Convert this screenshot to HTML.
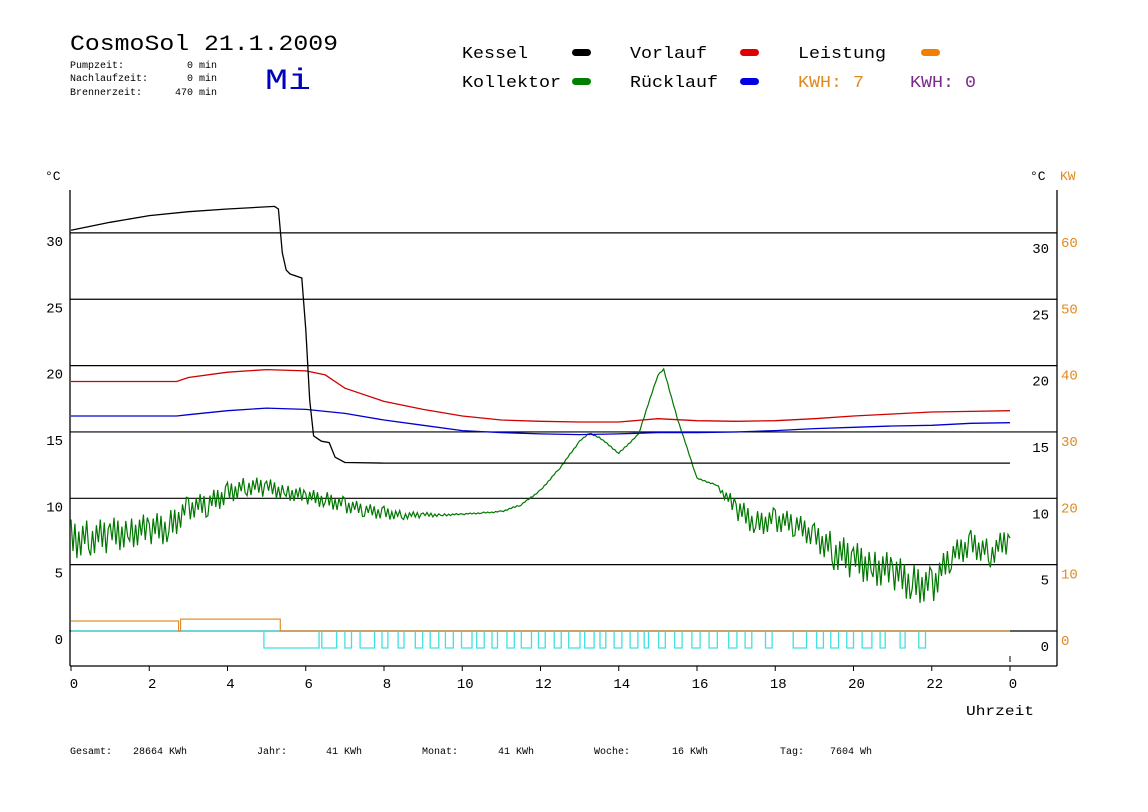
<!DOCTYPE html>
<html><head><meta charset="utf-8"><style>
html,body{margin:0;padding:0;background:#fff;}
svg{display:block;font-family:"Liberation Mono",monospace;}
svg text{white-space:pre;}
</style></head><body>
<svg id="chart" width="1148" height="812" viewBox="0 0 1148 812" xmlns="http://www.w3.org/2000/svg">
<g>
<text x="70" y="50" font-size="22" textLength="268" lengthAdjust="spacingAndGlyphs" fill="#000">CosmoSol 21.1.2009</text>
<text x="70" y="68" font-size="10" fill="#000">Pumpzeit:</text>
<text x="217" y="68" font-size="10" text-anchor="end" fill="#000">0 min</text>
<text x="70" y="81" font-size="10" fill="#000">Nachlaufzeit:</text>
<text x="217" y="81" font-size="10" text-anchor="end" fill="#000">0 min</text>
<text x="70" y="95" font-size="10" fill="#000">Brennerzeit:</text>
<text x="217" y="95" font-size="10" text-anchor="end" fill="#000">470 min</text>
<text x="265" y="89" font-size="30" textLength="46" lengthAdjust="spacingAndGlyphs" fill="#0000c0">Mi</text>
</g>
<g font-size="17">
<text x="462" y="58" textLength="66" lengthAdjust="spacingAndGlyphs">Kessel</text>
<rect x="572" y="49" width="19" height="7" rx="3.5" fill="#000"/>
<text x="630" y="58" textLength="77" lengthAdjust="spacingAndGlyphs">Vorlauf</text>
<rect x="740" y="49" width="19" height="7" rx="3.5" fill="#e00000"/>
<text x="798" y="58" textLength="88" lengthAdjust="spacingAndGlyphs">Leistung</text>
<rect x="921" y="49" width="19" height="7" rx="3.5" fill="#f08000"/>
<text x="462" y="87" textLength="99" lengthAdjust="spacingAndGlyphs">Kollektor</text>
<rect x="572" y="78" width="19" height="7" rx="3.5" fill="#008000"/>
<text x="630" y="87" textLength="88" lengthAdjust="spacingAndGlyphs">Rücklauf</text>
<rect x="740" y="78" width="19" height="7" rx="3.5" fill="#0000e0"/>
<text x="798" y="87" textLength="66" lengthAdjust="spacingAndGlyphs" fill="#e08a20">KWH: 7</text>
<text x="910" y="87" textLength="66" lengthAdjust="spacingAndGlyphs" fill="#7a2a8a">KWH: 0</text>
</g>
<g id="axes"></g>
<g id="series"></g>
<g font-size="10">
<text x="966" y="715" font-size="14" textLength="68" lengthAdjust="spacingAndGlyphs">Uhrzeit</text>
<text x="70" y="754">Gesamt:</text>
<text x="133" y="754">28664 KWh</text>
<text x="257" y="754">Jahr:</text>
<text x="326" y="754">41 KWh</text>
<text x="422" y="754">Monat:</text>
<text x="498" y="754">41 KWh</text>
<text x="594" y="754">Woche:</text>
<text x="672" y="754">16 KWh</text>
<text x="780" y="754">Tag:</text>
<text x="830" y="754">7604 Wh</text>
</g>
</svg>
<script>
const xTicks = [0,2,4,6,8,10,12,14,16,18,20,22,24];
const xTickLabels = ["0","2","4","6","8","10","12","14","16","18","20","22","0"];
const yTicks = [0,5,10,15,20,25,30];
const kwTicks = [0,10,20,30,40,50,60];

const kesselT = [0,1,2,3,4,5.2,5.3,5.4,5.5,5.6,5.9,6.0,6.1,6.2,6.4,6.6,6.75,7,8,24];
const kesselV = [30.2,30.8,31.3,31.6,31.8,32.0,31.8,28.5,27.2,26.9,26.6,22.7,17.4,14.7,14.3,14.2,13.1,12.7,12.65,12.65];

const vorlaufT = [0,2.7,3,4,5,6,6.5,7,8,9,10,11,12,13,14,15,16,17,18,19,20,21,22,23,24];
const vorlaufV = [18.8,18.8,19.1,19.5,19.7,19.6,19.3,18.3,17.3,16.7,16.2,15.9,15.8,15.75,15.75,16.0,15.85,15.8,15.85,16.0,16.2,16.35,16.5,16.55,16.6];

const ruecklaufT = [0,2.7,3,4,5,6,7,8,9,10,11,12,13,14,15,16,17,18,19,20,21,22,23,24];
const ruecklaufV = [16.2,16.2,16.3,16.6,16.8,16.7,16.4,15.9,15.5,15.1,14.95,14.85,14.8,14.85,14.95,14.95,15.0,15.1,15.25,15.35,15.45,15.5,15.65,15.7];

const kollektorT = [0,0.5,1,1.5,2,2.5,3,3.5,4,4.5,5,5.5,6,6.5,7,7.5,8,8.5,9,9.5,10,10.5,11,11.5,12,12.5,13,13.25,13.5,14,14.5,15,15.15,15.5,16,16.5,17,17.5,18,18.5,19,19.5,20,20.5,21,21.5,22,22.5,23,23.5,24];
const kollektorV = [6.9,7.0,7.2,7.5,7.6,7.8,9.3,9.5,10.4,10.9,10.8,10.5,10.1,9.9,9.5,9.1,8.9,8.7,8.75,8.75,8.8,8.9,9.0,9.5,10.6,12.3,14.3,14.9,14.6,13.4,14.8,19.3,19.7,16.0,11.5,11.0,9.2,8.1,8.4,8.0,7.2,6.0,5.3,4.9,4.4,3.6,3.4,5.6,6.6,5.8,7.0];
const kollektorNoise = [1.5,1.3,1.3,1.2,1.2,1.2,0.9,0.9,0.8,0.7,0.7,0.6,0.6,0.6,0.6,0.5,0.5,0.3,0.2,0.1,0.05,0.05,0.05,0.05,0.05,0.05,0.05,0.05,0.05,0.05,0.05,0.05,0.05,0.05,0.05,0.05,0.9,0.9,0.9,0.9,0.9,1.4,1.4,1.4,1.4,1.4,1.4,1.0,1.0,1.0,1.0];

const leistungT = [0,2.75,2.75,2.8,2.8,5.35,5.35,24];
const leistungKW = [1.5,1.5,0,0,1.8,1.8,0,0];

const pumpStart = [4.93,6.41,7.0,7.39,7.95,8.36,8.8,9.18,9.57,9.98,10.37,10.76,11.14,11.51,11.95,12.35,12.72,13.13,13.52,13.88,14.29,14.65,15.02,15.43,15.87,16.31,16.81,17.23,17.75,18.46,19.06,19.42,19.83,20.22,20.68,21.19,21.67];
const pumpEnd = [6.34,6.79,7.17,7.76,8.1,8.51,8.99,9.4,9.77,10.25,10.56,10.9,11.33,11.77,12.12,12.53,13.01,13.37,13.67,14.08,14.49,14.76,15.19,15.62,16.08,16.52,17.02,17.4,17.92,18.8,19.23,19.62,20.0,20.47,20.81,21.32,21.84];

const X0=71, X1=1010, AXL=70, AXR=1057, AXT=190, AXB=666;
function xs(h){ return X0 + h*(X1-X0)/24; }
function ys(v){ return 631 - v*13.27; }
function yk(kw){ return 631 - kw*6.635; }
const NS="http://www.w3.org/2000/svg";
function mk(tag, attrs, parent){ const e=document.createElementNS(NS,tag); for(const k in attrs) e.setAttribute(k, attrs[k]); parent.appendChild(e); return e; }
const axes=document.getElementById('axes');
const series=document.getElementById('series');

yTicks.forEach((v,i)=>{
  const l=mk('line',{x1:AXL,x2:AXR,y1:ys(v),y2:ys(v),stroke:'#000','stroke-width':1.2},axes);
  
  
  const t=mk('text',{x:63,y:ys(v)+13,'font-size':14,'text-anchor':'end',fill:'#000'},axes);
  t.textContent=String(v);
  
  
  const t2=mk('text',{x:1049,y:ys(v)+20,'font-size':14,'text-anchor':'end',fill:'#000'},axes);
  t2.textContent=String(v);
  
  
});
kwTicks.forEach(k=>{
  const t=mk('text',{x:1061,y:yk(k)+14,'font-size':14,fill:'#e08a20'},axes);
  t.textContent=String(k);
  
  
});
const axl=mk('line',{x1:AXL,x2:AXL,y1:AXT,y2:AXB,stroke:'#000','stroke-width':1.3},axes);


const axr=mk('line',{x1:AXR,x2:AXR,y1:AXT,y2:AXB,stroke:'#000','stroke-width':1.3},axes);


const axb=mk('line',{x1:AXL,x2:AXR,y1:AXB,y2:AXB,stroke:'#000','stroke-width':1.3},axes);


const u1=mk('text',{x:45,y:180,'font-size':13,fill:'#000'},axes);
u1.textContent='°C';


const u2=mk('text',{x:1030,y:180,'font-size':13,fill:'#000'},axes);
u2.textContent='°C';


const u3=mk('text',{x:1060,y:180,'font-size':13,fill:'#e08a20'},axes);
u3.textContent='KW';


xTicks.forEach((h,i)=>{
  const tk=mk('line',{x1:xs(h),x2:xs(h),y1:AXB,y2:AXB+5,stroke:'#000'},axes);
  
  
  const t=mk('text',{x:xs(h)+3,y:688,'font-size':14,'text-anchor':'middle',fill:'#000'},axes);
  t.textContent=xTickLabels[i];
  
  
});
const endTick=mk('line',{x1:xs(24),x2:xs(24),y1:656,y2:662,stroke:'#000'},axes);



function poly(T,V,f){
  let pts=[];
  for(let i=0;i<T.length;i++) pts.push(xs(T[i]).toFixed(1)+','+f(V[i]).toFixed(1));
  return pts.join(' ');
}
const pumpPath=[];
pumpStart.forEach((s,i)=>{
  pumpPath.push('M'+xs(s).toFixed(1)+',631 V648 H'+xs(pumpEnd[i]).toFixed(1)+' V631');
});
const pb=mk('line',{x1:xs(0),x2:xs(24),y1:631,y2:631,stroke:'#40e0e0','stroke-width':1.3},series);


const pp=mk('path',{d:pumpPath.join(' '),fill:'none',stroke:'#40e0e0','stroke-width':1.3},series);



const le=mk('polyline',{points:poly(leistungT,leistungKW,yk),fill:'none',stroke:'#e09030','stroke-width':1.2},series);



const jit=[1,-0.6,0.8,-1,0.4,-0.9,0.7,-0.3];
let kp=[];
for(let i=0;i<kollektorT.length-1;i++){
  const t0=kollektorT[i],t1=kollektorT[i+1],n=Math.max(2,Math.round((t1-t0)*20));
  for(let j=0;j<n;j++){
    const f=j/n, t=t0+(t1-t0)*f;
    const v=kollektorV[i]+(kollektorV[i+1]-kollektorV[i])*f;
    const b=kollektorNoise[i]+(kollektorNoise[i+1]-kollektorNoise[i])*f;
    kp.push(xs(t).toFixed(1)+','+ys(v+b*jit[(i*3+j)%8]).toFixed(1));
  }
}
kp.push(xs(24).toFixed(1)+','+ys(kollektorV[kollektorV.length-1]).toFixed(1));
const ko=mk('polyline',{points:kp.join(' '),fill:'none',stroke:'#007800','stroke-width':1.2},series);



const rl=mk('polyline',{points:poly(ruecklaufT,ruecklaufV,ys),fill:'none',stroke:'#0000d0','stroke-width':1.3},series);


const vl=mk('polyline',{points:poly(vorlaufT,vorlaufV,ys),fill:'none',stroke:'#d00000','stroke-width':1.3},series);


const ke=mk('polyline',{points:poly(kesselT,kesselV,ys),fill:'none',stroke:'#000','stroke-width':1.3},series);


</script>
</body></html>
